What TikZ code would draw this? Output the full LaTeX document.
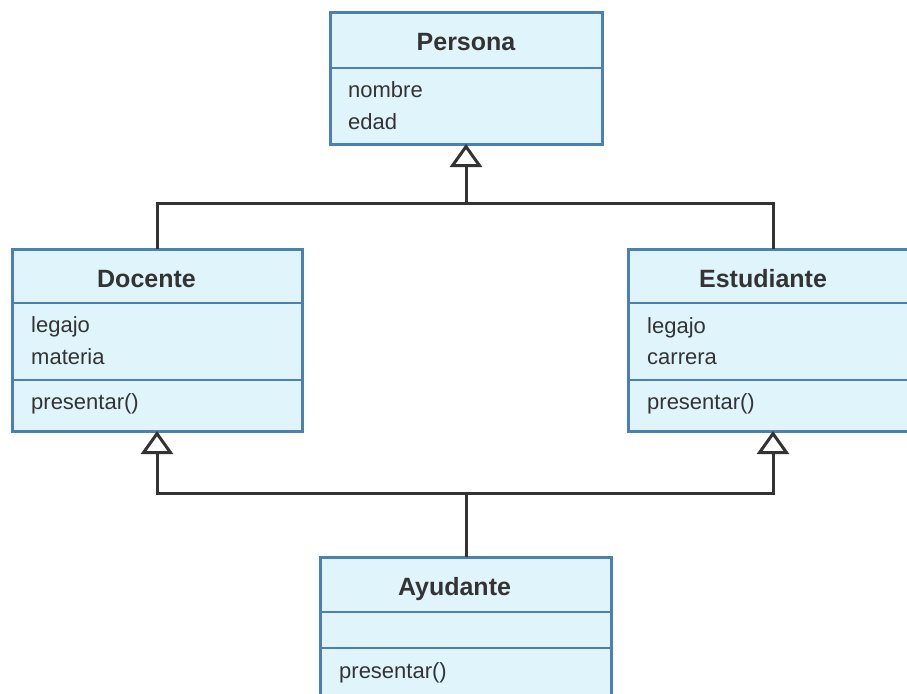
\documentclass[tikz,border=0pt]{standalone}
\usepackage{fontspec}
\setmainfont{Liberation Sans}
\usetikzlibrary{arrows.meta}
\definecolor{boxfill}{HTML}{E0F4FC}
\definecolor{boxline}{HTML}{4A80B4}
\definecolor{ink}{HTML}{333333}
\tikzset{
  cls/.style={draw=boxline, fill=boxfill, line width=3pt, rectangle, inner sep=0pt, outer sep=0pt},
  sep/.style={draw=boxline, line width=1.6pt},
  ttl/.style={anchor=base, inner sep=0pt, text=ink, font=\fontsize{25}{28}\selectfont\bfseries},
  attr/.style={anchor=base west, inner sep=0pt, text=ink, font=\fontsize{22}{26}\selectfont},
  link/.style={draw=ink, line width=3pt},
  tri/.tip={Triangle[fill=white, width=32pt, length=23pt]},
  inh/.style={link, -tri}
}
\begin{document}
\begin{tikzpicture}[x=1pt, y=-1pt]
\clip (0,0) rectangle (907,693);
\fill[white] (0,0) rectangle (907,693);
% Persona
\node[cls, minimum width=272pt, minimum height=131pt] (Persona) at (466,78.5) {};
\draw[sep] (331.5,68) -- (600.5,68);
\node[ttl] (tP) at (466,51) {Persona};
\node[attr] (aP1) at (348,97) {nombre};
\node[attr] (aP2) at (348,129) {edad};
% Docente
\node[cls, minimum width=290pt, minimum height=182pt] (Docente) at (157,340) {};
\draw[sep] (13.5,303) -- (300.5,303);
\draw[sep] (13.5,380) -- (300.5,380);
\node[ttl] (tD) at (146.5,287) {Docente};
\node[attr] (aD1) at (31,332) {legajo};
\node[attr] (aD2) at (31,364) {materia};
\node[attr] (mD1) at (31,409) {presentar()};
% Estudiante
\node[cls, minimum width=290pt, minimum height=182pt] (Estudiante) at (773,340) {};
\draw[sep] (629.5,303) -- (916.5,303);
\draw[sep] (629.5,380) -- (916.5,380);
\node[ttl] (tE) at (763,287) {Estudiante};
\node[attr] (aE1) at (647,333) {legajo};
\node[attr] (aE2) at (647,364) {carrera};
\node[attr] (mE1) at (647,409) {presentar()};
% Ayudante
\node[cls, minimum width=291pt, minimum height=170pt] (Ayudante) at (465.5,642) {};
\draw[sep] (321.5,612) -- (609.5,612);
\draw[sep] (321.5,648) -- (609.5,648);
\node[ttl] (tA) at (454.5,595) {Ayudante};
\node[attr] (mA1) at (339,678) {presentar()};
% connectors
\coordinate (j1) at (466,203);
\coordinate (j2) at (466,493);
\draw[link] (Docente.north) -- (Docente.north |- j1) -- (Estudiante.north |- j1) -- (Estudiante.north);
\draw[inh] (j1) -- (Persona.south);
\draw[link] (j2) -- (j2 |- Ayudante.north);
\draw[link, tri-tri] (Docente.south) -- (Docente.south |- j2) -- (Estudiante.south |- j2) -- (Estudiante.south);
\end{tikzpicture}
\end{document}
